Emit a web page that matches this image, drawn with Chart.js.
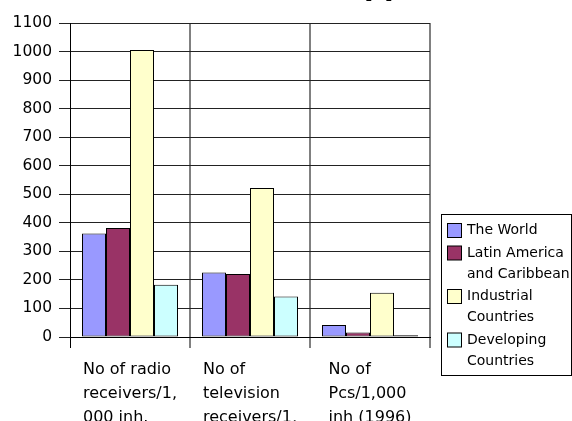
<!DOCTYPE html>
<html>
<head>
<meta charset="utf-8">
<script src="https://cdn.jsdelivr.net/npm/chart.js@4/dist/chart.umd.min.js"></script>
<style>
  html, body { margin: 0; padding: 0; background: #fff; }
  #wrap { width: 572px; height: 421px; }
</style>
</head>
<body>
<div id="wrap"><canvas id="c" width="572" height="421"></canvas></div>
<script>
// Categories (wrapped lines of each axis label)
const categories = [
  ['No of radio', 'receivers/1,', '000 inh.'],
  ['No of', 'television', 'receivers/1,', '000 inh.'],
  ['No of', 'Pcs/1,000', 'inh (1996)']
];
// Series values per 1,000 inhabitants
const seriesNames = [
  ['The World'],
  ['Latin America', 'and Caribbean'],
  ['Industrial', 'Countries'],
  ['Developing', 'Countries']
];
const worldValues      = [363, 226, 42];
const latinValues      = [382, 221, 16];
const industrialValues = [1005, 522, 155];
const developingValues = [183, 142, 6];
const seriesColors = ['#9999FF', '#993366', '#FFFFCC', '#CCFFFF'];
const yTicks = [0, 100, 200, 300, 400, 500, 600, 700, 800, 900, 1000, 1100];
const titleText = 'Access to Appliances';

const FONT = '"DejaVu Sans", Verdana, sans-serif';

const seriesValues = [worldValues, latinValues, industrialValues, developingValues];
const datasets = seriesValues.map((vals, i) => ({
  label: seriesNames[i].join(' '),
  data: vals,
  backgroundColor: seriesColors[i],
  borderColor: '#000',
  borderWidth: 1,
  borderSkipped: false,
  categoryPercentage: 0.8,
  barPercentage: 1.0
}));

// Bold title, mostly above the top edge of the canvas
const titlePlugin = {
  id: 'titleTop',
  afterDraw(chart) {
    const ctx = chart.ctx;
    ctx.save();
    ctx.font = 'bold 28px ' + FONT;
    ctx.fillStyle = '#000';
    ctx.textAlign = 'left';
    ctx.textBaseline = 'alphabetic';
    const pre = ctx.measureText('Access to A').width;
    ctx.fillText(titleText, 364 - pre, -5);
    ctx.restore();
  }
};

// Category labels: lines left-aligned inside a block centred on the category
const xLabelPlugin = {
  id: 'xLabels',
  afterDraw(chart) {
    const ctx = chart.ctx;
    const xs = chart.scales.x;
    const top = chart.chartArea.bottom;
    ctx.save();
    ctx.font = '16px ' + FONT;
    ctx.fillStyle = '#000';
    ctx.textAlign = 'left';
    ctx.textBaseline = 'alphabetic';
    categories.forEach((lines, i) => {
      const cx = xs.getPixelForTick(i);
      const w = Math.max(...lines.map(l => ctx.measureText(l).width));
      const left = cx - w / 2;
      lines.forEach((l, k) => ctx.fillText(l, left, top + 37 + k * 24));
    });
    ctx.restore();
  }
};

// Boxed legend on the right with wrapped series names
const legendPlugin = {
  id: 'boxLegend',
  afterDraw(chart) {
    const ctx = chart.ctx;
    ctx.save();
    ctx.strokeStyle = '#000';
    ctx.lineWidth = 1;
    ctx.strokeRect(441.5, 214.5, 130, 161);
    ctx.font = '14px ' + FONT;
    ctx.textAlign = 'left';
    ctx.textBaseline = 'middle';
    let y = 230.5;
    chart.data.datasets.forEach((ds, i) => {
      ctx.fillStyle = ds.backgroundColor;
      ctx.fillRect(447.5, y - 7, 14, 14);
      ctx.strokeRect(447.5, y - 7, 14, 14);
      ctx.fillStyle = '#000';
      seriesNames[i].forEach((l, k) => ctx.fillText(l, 467, y + k * 21));
      y += seriesNames[i].length * 21 + 1.5;
    });
    ctx.restore();
  }
};

new Chart(document.getElementById('c'), {
  type: 'bar',
  data: { labels: categories, datasets },
  options: {
    responsive: false,
    animation: false,
    devicePixelRatio: 1,
    layout: { padding: { top: 23, right: 142, left: 0, bottom: 0 } },
    plugins: { legend: { display: false }, tooltip: { enabled: false }, title: { display: false } },
    scales: {
      x: {
        grid: {
          offset: true,
          color: ctx => (ctx.index === 0 || ctx.index === categories.length) ? '#000' : '#808080',
          lineWidth: ctx => (ctx.index === 0 || ctx.index === categories.length) ? 1 : 2,
          tickLength: 11
        },
        border: { color: '#000', width: 1 },
        ticks: { color: 'rgba(0,0,0,0)', font: { family: FONT, size: 16 } },
        afterFit: s => { s.height = 84; }
      },
      y: {
        min: 0,
        max: 1100,
        afterBuildTicks: s => { s.ticks = yTicks.map(v => ({ value: v })); },
        grid: { color: '#222', lineWidth: 1, tickLength: 11 },
        border: { color: '#000', width: 1 },
        ticks: {
          color: '#000',
          padding: 7,
          font: { family: FONT, size: 15.5 },
          callback: v => String(v)
        },
        afterFit: s => { s.width = 70; }
      }
    }
  },
  plugins: [titlePlugin, xLabelPlugin, legendPlugin]
});
</script>
</body>
</html>
